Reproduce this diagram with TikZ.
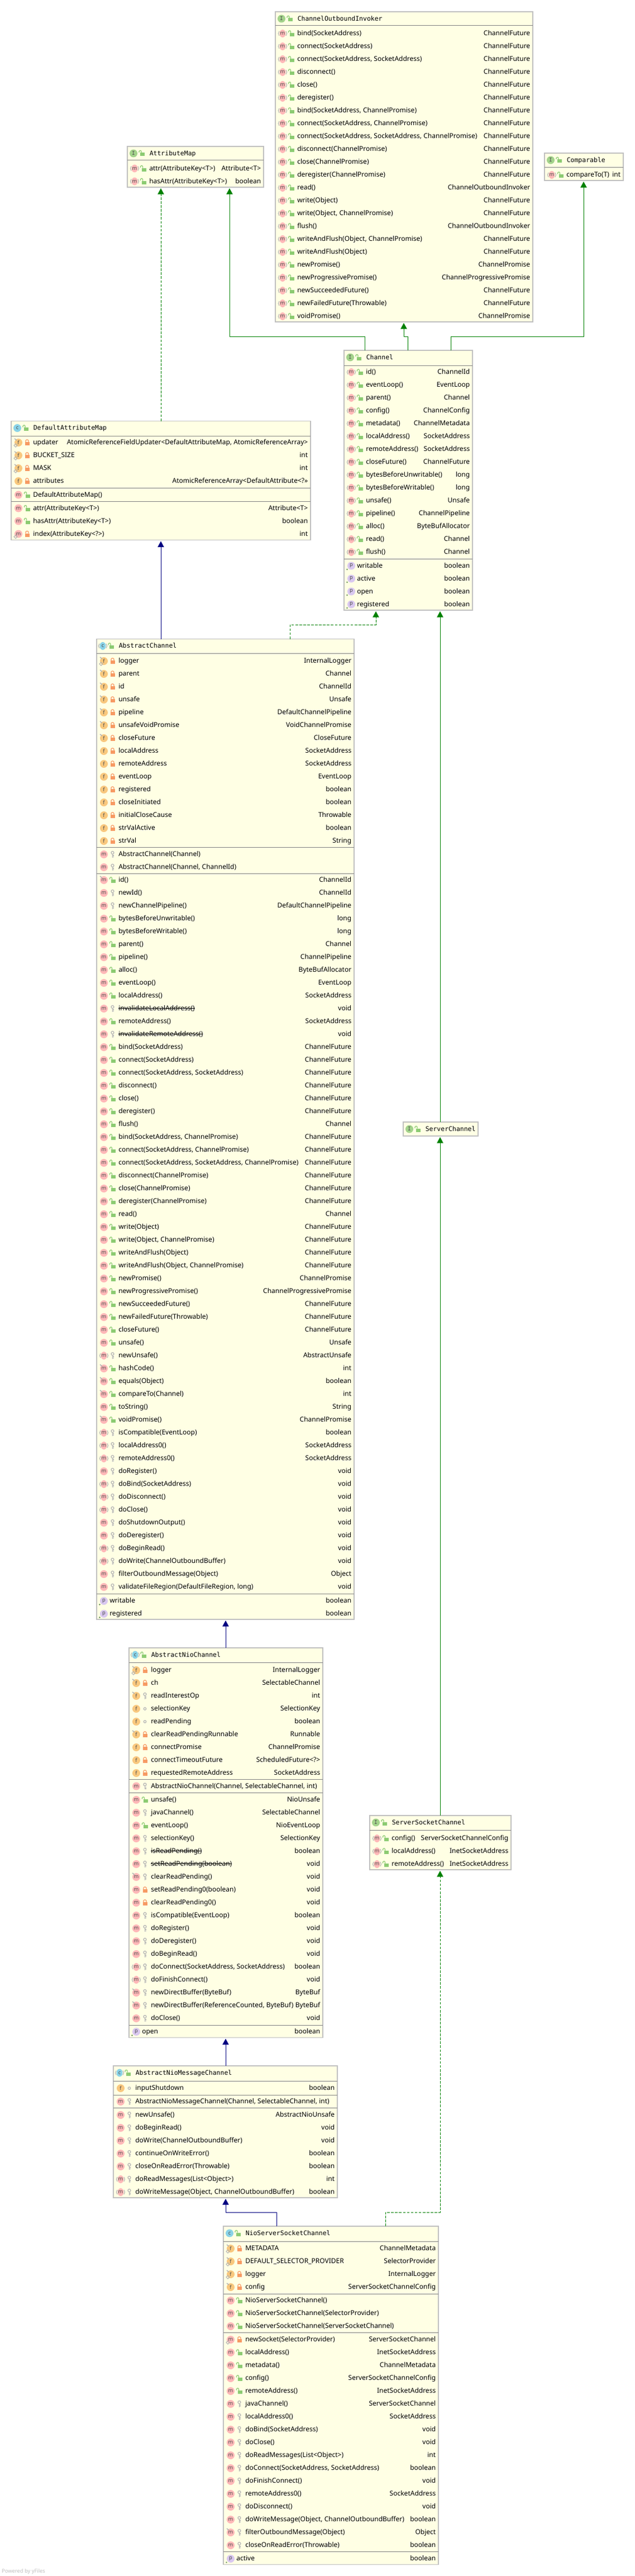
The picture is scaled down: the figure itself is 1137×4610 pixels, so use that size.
\documentclass[tikz,border=0pt]{standalone}
\usepackage{fontspec}
\usetikzlibrary{arrows.meta,calc}
\setmainfont{Noto Sans}
\newfontfamily\headfont{DejaVu Sans Mono}

\definecolor{boxfill}{HTML}{FFFFE4}
\definecolor{boxline}{HTML}{C0C0C0}
\definecolor{sepcol}{HTML}{808080}
\definecolor{mpink}{HTML}{FFB8B8}
\definecolor{forange}{HTML}{F9C87E}
\definecolor{ppurple}{HTML}{D9C8F0}
\definecolor{cblue}{HTML}{8AD3E8}
\definecolor{igreen}{HTML}{A3D38B}
\definecolor{lockorange}{HTML}{F79A63}
\definecolor{lockgreen}{HTML}{8CCB72}
\definecolor{keygrey}{HTML}{B4B4B4}
\definecolor{inhgreen}{HTML}{008000}
\definecolor{inhnavy}{HTML}{000080}

\tikzset{
    umlbox/.style = {draw=boxline, fill=boxfill, line width=1pt, inner sep=0pt, outer sep=0pt, anchor=north west},
    septop/.style = {draw=sepcol, line width=.75pt},
    member/.style = {anchor=mid west, inner sep=0pt, font=\fontsize{9pt}{10pt}\selectfont},
    rettype/.style = {anchor=mid east, inner sep=0pt, font=\fontsize{9pt}{10pt}\selectfont},
    title/.style = {anchor=mid west, inner sep=0pt, font=\headfont\fontsize{8.6pt}{10pt}\selectfont},
    icotxt/.style = {inner sep=0pt, text=black!70, font=\fontsize{7pt}{8pt}\selectfont},
    impl/.style = {draw=inhgreen, line width=.75pt, dash pattern=on 3.5pt off 1.8pt, shorten >=1.5pt, -{Triangle[width=8.5pt,length=8pt,fill=inhgreen]}},
    iface/.style = {draw=inhgreen, line width=.75pt, shorten >=1.5pt, -{Triangle[width=8.5pt,length=8pt,fill=inhgreen]}},
    super/.style = {draw=inhnavy, line width=.75pt, shorten >=1.5pt, -{Triangle[width=8.5pt,length=8pt,fill=inhnavy]}},
}

\newcommand\strike[1]{\setbox0=\hbox{#1}\rlap{\rule[2.7pt]{\wd0}{.5pt}}\box0}

% letter in a disc
\newcommand\disc[5]{\fill[#3] (#1,#2) circle[radius=7];
    \node[icotxt] (#5) at (#1,#2) {#4};}
\newcommand\pinmark[2]{\draw[keygrey, line width=1.1pt] (#1-7,#2-7) -- (#1-3,#2-4);}
\newcommand\diamark[2]{\draw[keygrey, line width=.8pt] (#1-8,#2+5) -- (#1-5,#2+2) -- (#1-2,#2+5) -- (#1-5,#2+8) -- cycle;}
\newcommand\parens[2]{\draw[keygrey, line width=.8pt] (#1-6,#2-4) -- (#1-7.5,#2) -- (#1-6,#2+4) (#1+6,#2-4) -- (#1+7.5,#2) -- (#1+6,#2+4);}

\newcommand\icom[3]{\disc{#1}{#2}{mpink}{m}{#3}}
\newcommand\icoa[3]{\fill[mpink] (#1,#2) circle[x radius=5.5, y radius=7]; \parens{#1}{#2}
    \node[icotxt] (#3) at (#1,#2) {m};}
\newcommand\icok[3]{\disc{#1}{#2}{mpink}{m}{#3}\pinmark{#1}{#2}}
\newcommand\icos[3]{\disc{#1}{#2}{mpink}{m}{#3}\diamark{#1}{#2}}
\newcommand\icof[3]{\disc{#1}{#2}{forange}{f}{#3}}
\newcommand\icog[3]{\disc{#1}{#2}{forange}{f}{#3}\pinmark{#1}{#2}}
\newcommand\icoh[3]{\disc{#1}{#2}{forange}{f}{#3}\pinmark{#1}{#2}\diamark{#1}{#2}}
\newcommand\icoI[3]{\disc{#1}{#2}{igreen}{\headfont I}{#3}}
\newcommand\icoc[3]{\disc{#1}{#2}{cblue}{c}{#3}}
\newcommand\icoe[3]{\fill[cblue] (#1,#2) circle[x radius=5.5, y radius=7]; \parens{#1}{#2}
    \node[icotxt] (#3) at (#1,#2) {c};}

% access marks: public, private, protected, package
\newcommand\visu[2]{\begin{scope}[shift={(#1,#2)}]
    \draw[lockgreen, line width=.9pt] (-5,-1.5) -- (-5,-3.5) -- (-3.5,-5) -- (-2,-5) -- (-1,-3.5) -- (-1,-1);
    \fill[lockgreen] (-3,-1) rectangle (5,5);
\end{scope}}
\newcommand\visr[2]{\begin{scope}[shift={(#1,#2)}]
    \draw[lockorange, line width=.9pt] (-2.5,-1) -- (-2.5,-3.5) -- (-1,-5) -- (1,-5) -- (2.5,-3.5) -- (2.5,-1);
    \fill[lockorange] (-4,-1) rectangle (4,5);
\end{scope}}
\newcommand\viso[2]{\begin{scope}[shift={(#1,#2)}]
    \draw[keygrey, line width=.9pt] (0,-3) circle[radius=2.5];
    \draw[keygrey, line width=1.1pt] (0,-.5) -- (0,5.5) (0,2) -- (2,2) (0,4.5) -- (2,4.5);
\end{scope}}
\newcommand\visk[2]{\draw[keygrey, line width=.9pt] (#1,#2) circle[radius=2.2];}

% box with its title row
\newcommand\umlbox[7]{\def\bl{#2}\def\br{#4}
    \node[umlbox, minimum width={(#4-#2)*.75pt}, minimum height={(#5-#3)*.75pt}] (#1) at (#2,#3) {};
    \csname ico#6\endcsname{#2+11}{#3+12.5}{#1-ico}
    \visu{#2+26}{#3+12.5}
    \node[title] (#1-title) at (#2+39.5,#3+12.5) {#7};}
\newcommand\umlsep[1]{\draw[septop] (\bl,#1) -- (\br,#1);}

% #1 prefix, #2 first y, #3 kind/access/name/type
\newcommand\umlrows[3]{
    \foreach \kind/\vis/\nam/\typ [count=\ic from 0] in {#3} {
        \pgfmathsetmacro\ry{#2+23*\ic}
        \csname ico\kind\endcsname{\bl+13}{\ry}{#1-i\ic}
        \csname vis\vis\endcsname{\bl+28.5}{\ry}
        \node[member] (#1-n\ic) at (\bl+39,\ry) {\nam};
        \node[rettype] (#1-t\ic) at (\br-4.5,\ry) {\typ};
    }
}
% #1 prefix, #2 first y, #3 name/type
\newcommand\umlprops[3]{
    \foreach \nam/\typ [count=\ic from 0] in {#3} {
        \pgfmathsetmacro\ry{#2+23*\ic}
        \fill[ppurple] (\bl+13,\ry) circle[radius=7];
        \fill[lockgreen!70!black] (\bl+5.5,\ry+6.5) circle[radius=1.3];
        \node[icotxt] (#1-i\ic) at (\bl+13,\ry) {p};
        \node[member] (#1-n\ic) at (\bl+23,\ry) {\nam};
        \node[rettype] (#1-t\ic) at (\br-4.5,\ry) {\typ};
    }
}

\begin{document}
\begin{tikzpicture}[x=.75pt, y=-.75pt]
    \useasboundingbox (0,0) rectangle (1137,4610);

    \umlbox{ChannelOutboundInvoker}{493}{21}{954}{576}{I}{ChannelOutboundInvoker}
    \umlsep{46}
    \umlrows{inv}{60}{a/u/{bind(SocketAddress)}/ChannelFuture, a/u/{connect(SocketAddress)}/ChannelFuture,
        a/u/{connect(SocketAddress, SocketAddress)}/ChannelFuture, a/u/{disconnect()}/ChannelFuture,
        a/u/{close()}/ChannelFuture, a/u/{deregister()}/ChannelFuture,
        a/u/{bind(SocketAddress, ChannelPromise)}/ChannelFuture, a/u/{connect(SocketAddress, ChannelPromise)}/ChannelFuture,
        a/u/{connect(SocketAddress, SocketAddress, ChannelPromise)}/ChannelFuture, a/u/{disconnect(ChannelPromise)}/ChannelFuture,
        a/u/{close(ChannelPromise)}/ChannelFuture, a/u/{deregister(ChannelPromise)}/ChannelFuture,
        a/u/{read()}/ChannelOutboundInvoker, a/u/{write(Object)}/ChannelFuture,
        a/u/{write(Object, ChannelPromise)}/ChannelFuture, a/u/{flush()}/ChannelOutboundInvoker,
        a/u/{writeAndFlush(Object, ChannelPromise)}/ChannelFuture, a/u/{writeAndFlush(Object)}/ChannelFuture,
        a/u/{newPromise()}/ChannelPromise, a/u/{newProgressivePromise()}/ChannelProgressivePromise,
        a/u/{newSucceededFuture()}/ChannelFuture, a/u/{newFailedFuture(Throwable)}/ChannelFuture,
        a/u/{voidPromise()}/ChannelPromise}

    \umlbox{AttributeMap}{228}{262}{472}{335}{I}{AttributeMap}
    \umlsep{287}
    \umlrows{attrmap}{301.5}{a/u/{attr(AttributeKey<T>)}/{Attribute<T>}, a/u/{hasAttr(AttributeKey<T>)}/boolean}

    \umlbox{Comparable}{975}{274}{1116}{323}{I}{Comparable}
    \umlsep{299.5}
    \umlrows{cmp}{313}{a/u/{compareTo(T)}/int}

    \umlbox{Channel}{616}{627}{846}{1092}{I}{Channel}
    \umlsep{654}
    \umlrows{chan}{666}{a/u/{id()}/ChannelId, a/u/{eventLoop()}/EventLoop, a/u/{parent()}/Channel, a/u/{config()}/ChannelConfig,
        a/u/{metadata()}/ChannelMetadata, a/u/{localAddress()}/SocketAddress, a/u/{remoteAddress()}/SocketAddress,
        a/u/{closeFuture()}/ChannelFuture, a/u/{bytesBeforeUnwritable()}/long, a/u/{bytesBeforeWritable()}/long,
        a/u/{unsafe()}/Unsafe, a/u/{pipeline()}/ChannelPipeline, a/u/{alloc()}/ByteBufAllocator,
        a/u/{read()}/Channel, a/u/{flush()}/Channel}
    \umlsep{1000.5}
    \umlprops{chanp}{1012.5}{writable/boolean, active/boolean, open/boolean, registered/boolean}

    \umlbox{DefaultAttributeMap}{20}{753.5}{556}{966.5}{c}{DefaultAttributeMap}
    \umlsep{780}
    \umlrows{damf}{792}{h/r/updater/{AtomicReferenceFieldUpdater<DefaultAttributeMap, AtomicReferenceArray>},
        h/r/BUCKET\_SIZE/int, h/r/MASK/int, f/r/attributes/{AtomicReferenceArray<DefaultAttribute<?>>}}
    \umlsep{873.5}
    \umlrows{damc}{885.5}{m/u/{DefaultAttributeMap()}/{}}
    \umlsep{897.5}
    \umlrows{damm}{909.5}{m/u/{attr(AttributeKey<T>)}/{Attribute<T>}, m/u/{hasAttr(AttributeKey<T>)}/boolean,
        s/r/{index(AttributeKey<?>)}/int}

    \umlbox{ServerChannel}{722}{2008}{856}{2033}{I}{ServerChannel}

    \umlbox{AbstractChannel}{173}{1143.5}{634}{2898}{e}{AbstractChannel}
    \umlsep{1169.5}
    \umlrows{acf}{1183}{h/r/logger/InternalLogger, g/r/parent/Channel, g/r/id/ChannelId, g/r/unsafe/Unsafe,
        g/r/pipeline/DefaultChannelPipeline, g/r/unsafeVoidPromise/VoidChannelPromise, g/r/closeFuture/CloseFuture,
        f/r/localAddress/SocketAddress, f/r/remoteAddress/SocketAddress, f/r/eventLoop/EventLoop, f/r/registered/boolean,
        f/r/closeInitiated/boolean, f/r/initialCloseCause/Throwable, f/r/strValActive/boolean, f/r/strVal/String}
    \umlsep{1516}
    \umlrows{acc}{1529}{m/o/{AbstractChannel(Channel)}/{}, m/o/{AbstractChannel(Channel, ChannelId)}/{}}
    \umlsep{1563.5}
    \umlrows{acm}{1575}{k/u/{id()}/ChannelId, m/o/{newId()}/ChannelId, m/o/{newChannelPipeline()}/DefaultChannelPipeline,
        m/u/{bytesBeforeUnwritable()}/long, m/u/{bytesBeforeWritable()}/long, m/u/{parent()}/Channel,
        m/u/{pipeline()}/ChannelPipeline, m/u/{alloc()}/ByteBufAllocator, m/u/{eventLoop()}/EventLoop,
        m/u/{localAddress()}/SocketAddress, m/o/{\strike{invalidateLocalAddress()}}/void, m/u/{remoteAddress()}/SocketAddress,
        m/o/{\strike{invalidateRemoteAddress()}}/void, m/u/{bind(SocketAddress)}/ChannelFuture,
        m/u/{connect(SocketAddress)}/ChannelFuture, m/u/{connect(SocketAddress, SocketAddress)}/ChannelFuture,
        m/u/{disconnect()}/ChannelFuture, m/u/{close()}/ChannelFuture, m/u/{deregister()}/ChannelFuture, m/u/{flush()}/Channel,
        m/u/{bind(SocketAddress, ChannelPromise)}/ChannelFuture, m/u/{connect(SocketAddress, ChannelPromise)}/ChannelFuture,
        m/u/{connect(SocketAddress, SocketAddress, ChannelPromise)}/ChannelFuture, m/u/{disconnect(ChannelPromise)}/ChannelFuture,
        m/u/{close(ChannelPromise)}/ChannelFuture, m/u/{deregister(ChannelPromise)}/ChannelFuture, m/u/{read()}/Channel,
        m/u/{write(Object)}/ChannelFuture, m/u/{write(Object, ChannelPromise)}/ChannelFuture,
        m/u/{writeAndFlush(Object)}/ChannelFuture, m/u/{writeAndFlush(Object, ChannelPromise)}/ChannelFuture,
        m/u/{newPromise()}/ChannelPromise, m/u/{newProgressivePromise()}/ChannelProgressivePromise,
        m/u/{newSucceededFuture()}/ChannelFuture, m/u/{newFailedFuture(Throwable)}/ChannelFuture,
        m/u/{closeFuture()}/ChannelFuture, m/u/{unsafe()}/Unsafe, a/o/{newUnsafe()}/AbstractUnsafe, k/u/{hashCode()}/int,
        k/u/{equals(Object)}/boolean, k/u/{compareTo(Channel)}/int, m/u/{toString()}/String, k/u/{voidPromise()}/ChannelPromise,
        a/o/{isCompatible(EventLoop)}/boolean, a/o/{localAddress0()}/SocketAddress, a/o/{remoteAddress0()}/SocketAddress,
        m/o/{doRegister()}/void, a/o/{doBind(SocketAddress)}/void, a/o/{doDisconnect()}/void, a/o/{doClose()}/void,
        m/o/{doShutdownOutput()}/void, m/o/{doDeregister()}/void, a/o/{doBeginRead()}/void,
        a/o/{doWrite(ChannelOutboundBuffer)}/void, m/o/{filterOutboundMessage(Object)}/Object,
        m/o/{validateFileRegion(DefaultFileRegion, long)}/void}
    \umlsep{2852}
    \umlprops{acp}{2865}{writable/boolean, registered/boolean}

    \umlbox{ServerSocketChannel}{662}{3249}{915}{3346}{I}{ServerSocketChannel}
    \umlsep{3275}
    \umlrows{ssc}{3290}{a/u/{config()}/ServerSocketChannelConfig, a/u/{localAddress()}/InetSocketAddress,
        a/u/{remoteAddress()}/InetSocketAddress}

    \umlbox{AbstractNioChannel}{231}{2949}{578}{3646.5}{e}{AbstractNioChannel}
    \umlsep{2975}
    \umlrows{ancf}{2989}{h/r/logger/InternalLogger, g/r/ch/SelectableChannel, g/o/readInterestOp/int, f/k/selectionKey/SelectionKey,
        f/k/readPending/boolean, g/r/clearReadPendingRunnable/Runnable, f/r/connectPromise/ChannelPromise,
        f/r/connectTimeoutFuture/{ScheduledFuture<?>}, f/r/requestedRemoteAddress/SocketAddress}
    \umlsep{3184.5}
    \umlrows{ancc}{3196.5}{m/o/{AbstractNioChannel(Channel, SelectableChannel, int)}/{}}
    \umlsep{3208}
    \umlrows{ancm}{3221}{m/u/{unsafe()}/NioUnsafe, m/o/{javaChannel()}/SelectableChannel, m/u/{eventLoop()}/NioEventLoop,
        m/o/{selectionKey()}/SelectionKey, m/o/{\strike{isReadPending()}}/boolean, m/o/{\strike{setReadPending(boolean)}}/void,
        k/o/{clearReadPending()}/void, m/r/{setReadPending0(boolean)}/void, m/r/{clearReadPending0()}/void,
        m/o/{isCompatible(EventLoop)}/boolean, m/o/{doRegister()}/void, m/o/{doDeregister()}/void, m/o/{doBeginRead()}/void,
        a/o/{doConnect(SocketAddress, SocketAddress)}/boolean, a/o/{doFinishConnect()}/void,
        k/o/{newDirectBuffer(ByteBuf)}/ByteBuf, k/o/{newDirectBuffer(ReferenceCounted, ByteBuf)}/ByteBuf, m/o/{doClose()}/void}
    \umlsep{3624}
    \umlprops{ancp}{3636}{open/boolean}

    \umlbox{AbstractNioMessageChannel}{203}{3697}{604}{3933}{e}{AbstractNioMessageChannel}
    \umlsep{3724}
    \umlrows{anmf}{3737}{f/k/inputShutdown/boolean}
    \umlsep{3749}
    \umlrows{anmc}{3761}{m/o/{AbstractNioMessageChannel(Channel, SelectableChannel, int)}/{}}
    \umlsep{3772}
    \umlrows{anmm}{3785}{m/o/{newUnsafe()}/AbstractNioUnsafe, m/o/{doBeginRead()}/void, m/o/{doWrite(ChannelOutboundBuffer)}/void,
        m/o/{continueOnWriteError()}/boolean, m/o/{closeOnReadError(Throwable)}/boolean,
        a/o/{doReadMessages(List<Object>)}/int, a/o/{doWriteMessage(Object, ChannelOutboundBuffer)}/boolean}

    \umlbox{NioServerSocketChannel}{400}{3984}{785}{4589.5}{c}{NioServerSocketChannel}
    \umlsep{4011}
    \umlrows{nsf}{4024}{h/r/METADATA/ChannelMetadata, h/r/DEFAULT\_SELECTOR\_PROVIDER/SelectorProvider,
        h/r/logger/InternalLogger, g/r/config/ServerSocketChannelConfig}
    \umlsep{4105}
    \umlrows{nsc}{4117}{m/u/{NioServerSocketChannel()}/{}, m/u/{NioServerSocketChannel(SelectorProvider)}/{},
        m/u/{NioServerSocketChannel(ServerSocketChannel)}/{}}
    \umlsep{4174}
    \umlrows{nsm}{4187}{s/r/{newSocket(SelectorProvider)}/ServerSocketChannel, m/u/{localAddress()}/InetSocketAddress,
        m/u/{metadata()}/ChannelMetadata, m/u/{config()}/ServerSocketChannelConfig, m/u/{remoteAddress()}/InetSocketAddress,
        m/o/{javaChannel()}/ServerSocketChannel, m/o/{localAddress0()}/SocketAddress, m/o/{doBind(SocketAddress)}/void,
        m/o/{doClose()}/void, m/o/{doReadMessages(List<Object>)}/int, m/o/{doConnect(SocketAddress, SocketAddress)}/boolean,
        m/o/{doFinishConnect()}/void, m/o/{remoteAddress0()}/SocketAddress, m/o/{doDisconnect()}/void,
        m/o/{doWriteMessage(Object, ChannelOutboundBuffer)}/boolean, k/o/{filterOutboundMessage(Object)}/Object,
        m/o/{closeOnReadError(Throwable)}/boolean}
    \umlsep{4566.5}
    \umlprops{nsp}{4579}{active/boolean}

    \coordinate (toInvokerA) at (730,602);
    \coordinate (toInvokerB) at (723,602);
    \coordinate (toMapA) at (653,602);
    \coordinate (toMapB) at (411,602);
    \coordinate (toCmpA) at (807,602);
    \coordinate (toCmpB) at (1045,602);
    \coordinate (toDamap) at (288,700);
    \coordinate (toChanA) at (519,1118);
    \coordinate (toChanB) at (673,1118);
    \coordinate (toSchan) at (788,1500);
    \coordinate (toSscA) at (690,3959);
    \coordinate (toSscB) at (788,3959);
    \coordinate (toMsgA) at (495,3959);
    \coordinate (toMsgB) at (404,3959);

    \draw[iface] (Channel.north -| toInvokerA) -- (toInvokerA) -- (toInvokerB) -- (toInvokerB |- ChannelOutboundInvoker.south);
    \draw[iface] (Channel.north -| toMapA) -- (toMapA) -- (toMapB) -- (toMapB |- AttributeMap.south);
    \draw[iface] (Channel.north -| toCmpA) -- (toCmpA) -- (toCmpB) -- (toCmpB |- Comparable.south);
    \draw[impl] (DefaultAttributeMap.north -| toDamap) -- (toDamap |- AttributeMap.south);
    \draw[super] (AbstractChannel.north -| toDamap) -- (toDamap |- DefaultAttributeMap.south);
    \draw[impl] (AbstractChannel.north -| toChanA) -- (toChanA) -- (toChanB) -- (toChanB |- Channel.south);
    \draw[iface] (ServerChannel.north -| toSchan) -- (toSchan |- Channel.south);
    \draw[iface] (ServerSocketChannel.north -| toSchan) -- (toSchan |- ServerChannel.south);
    \draw[impl] (NioServerSocketChannel.north -| toSscA) -- (toSscA) -- (toSscB) -- (toSscB |- ServerSocketChannel.south);
    \draw[super] (AbstractNioChannel.north -| toMsgB) -- (toMsgB |- AbstractChannel.south);
    \draw[super] (AbstractNioMessageChannel.north -| toMsgB) -- (toMsgB |- AbstractNioChannel.south);
    \draw[super] (NioServerSocketChannel.north -| toMsgA) -- (toMsgA) -- (toMsgB) -- (toMsgB |- AbstractNioMessageChannel.south);

    \node[anchor=south west, inner sep=0pt, text=black!25, font=\fontsize{7pt}{8pt}\selectfont] (yfiles) at (3,4607) {Powered by yFiles};
\end{tikzpicture}
\end{document}
